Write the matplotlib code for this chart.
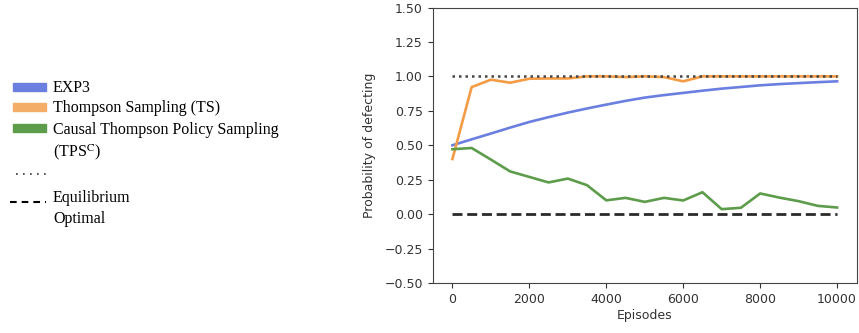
import matplotlib
matplotlib.use("Agg")
import matplotlib.pyplot as plt
from matplotlib.patches import Rectangle
from matplotlib.lines import Line2D
import numpy as np

episodes = list(range(0, 10001, 500))
exp3 = [0.500, 0.543, 0.585, 0.628, 0.669, 0.704, 0.737, 0.767, 0.795, 0.822,
        0.846, 0.864, 0.880, 0.896, 0.911, 0.923, 0.935, 0.944, 0.951, 0.958, 0.964]
ts = [0.40, 0.922, 0.976, 0.954, 0.983, 0.985, 0.985, 1.0, 1.0, 0.995,
      1.0, 0.995, 0.964, 1.0, 1.0, 1.0, 1.0, 1.0, 1.0, 1.0, 1.0]
tpsc = [0.471, 0.48, 0.396, 0.31, 0.27, 0.23, 0.258, 0.21, 0.10, 0.118,
        0.089, 0.118, 0.099, 0.159, 0.036, 0.046, 0.15, 0.12, 0.094, 0.06, 0.048]
equilibrium_x = [0, 10000]
equilibrium_y = [1.0, 1.0]
optimal_x = [0, 10000]
optimal_y = [0.0, 0.0]

legend_labels = ["EXP3", "Thompson Sampling (TS)", "Causal Thompson Policy Sampling",
                 r"(TPS$^{\mathrm{C}}$)", "Equilibrium", "Optimal"]

c_blue = "#6b7fe0"
c_orange = "#f39b45"
c_green = "#5c9c4a"

W, H = 859, 333
fig = plt.figure(figsize=(W / 100, H / 100), dpi=100)
plt.rcParams['mathtext.fontset'] = 'stix'

ax = fig.add_axes([432.5 / W, 1 - 283 / H, (857 - 432.5) / W, (283 - 7.5) / H])
ax.plot(episodes, exp3, color=c_blue, lw=1.9)
ax.plot(episodes, ts, color=c_orange, lw=1.9)
ax.plot(episodes, tpsc, color=c_green, lw=1.9)
ax.plot(equilibrium_x, equilibrium_y, color="#444444", lw=1.8, linestyle=(0, (1, 1.6)))
ax.plot(optimal_x, optimal_y, color="#2a2a2a", lw=2.0, linestyle=(0, (3.6, 1.7)))

ax.set_xlim(-518, 10518)
ax.set_ylim(-0.5, 1.5)
ax.set_yticks(np.arange(-0.5, 1.51, 0.25))
ax.set_yticklabels([f"{v:.2f}".replace("-", "\u2212") for v in np.arange(-0.5, 1.51, 0.25)])
ax.set_xticks(range(0, 10001, 2000))
ax.tick_params(labelsize=9, colors="#333333", length=3.5)
for s in ax.spines.values():
    s.set_color("#444444")
ax.set_xlabel("Episodes", fontsize=9, color="#333333", labelpad=2)
ax.set_ylabel("Probability of defecting", fontsize=9, color="#333333", labelpad=6)

# Left-side legend
serif = ["Liberation Serif", "DejaVu Serif"]
def fx(px):
    return px / W
def fy(py):
    return 1 - py / H

patch_colors = [c_blue, "#f3ad66", c_green]
patch_ys = [87, 106.5, 128]
for col, py in zip(patch_colors, patch_ys):
    fig.patches.append(Rectangle((fx(12.5), fy(py + 4)), fx(45.5) - fx(12.5), (8 / H),
                                 transform=fig.transFigure, color=col, zorder=5))

fs = 11.5
tx = fx(53)
fig.text(tx, fy(88), legend_labels[0], family=serif, fontsize=fs, va="center")
fig.text(tx, fy(108), legend_labels[1], family=serif, fontsize=fs, va="center")
fig.text(tx, fy(130), legend_labels[2], family=serif, fontsize=fs, va="center")
fig.text(tx, fy(152), legend_labels[3], family=serif, fontsize=fs, va="center")
fig.text(tx, fy(198), legend_labels[4], family=serif, fontsize=fs, va="center")
fig.text(tx, fy(219), legend_labels[5], family=serif, fontsize=fs, va="center")

fig.lines.append(Line2D([fx(16), fx(46)], [fy(173.5), fy(173.5)], transform=fig.transFigure,
                        color="#333333", lw=1.2, linestyle=(0, (1, 3.2))))
fig.lines.append(Line2D([fx(10), fx(46)], [fy(201.5), fy(201.5)], transform=fig.transFigure,
                        color="#000000", lw=1.5, linestyle=(0, (3.2, 2.4))))

fig.savefig("out.png", dpi=100)
